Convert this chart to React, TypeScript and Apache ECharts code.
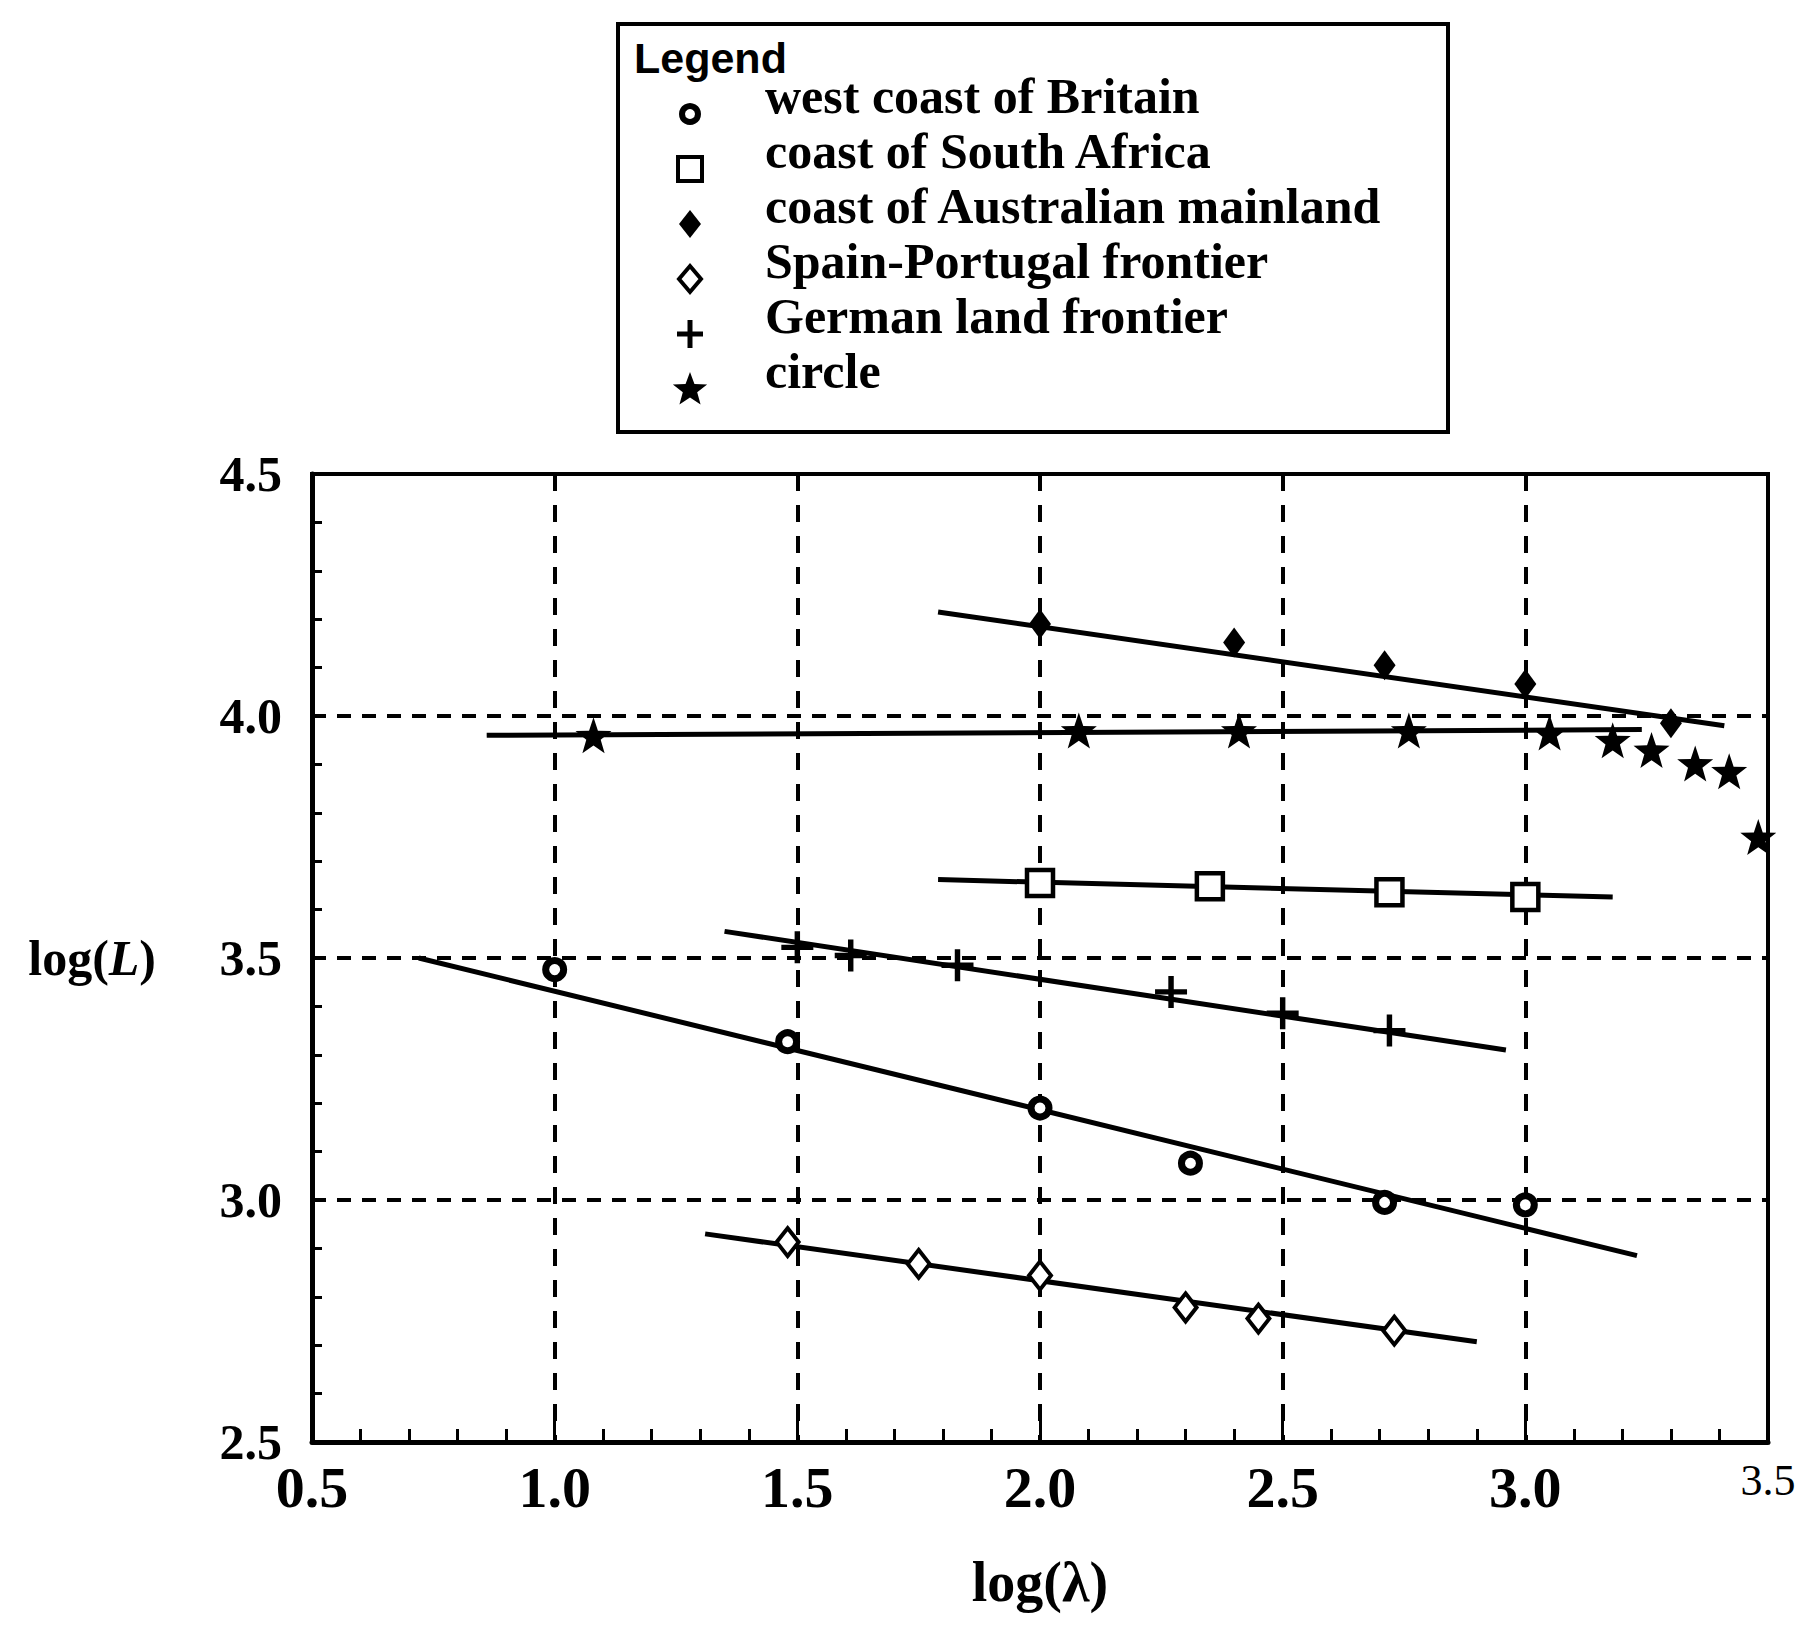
import React, { useEffect, useRef } from 'react';
import * as echarts from 'echarts';

// ---- data ----
const seriesNames = [
  'west coast of Britain',
  'coast of South Africa',
  'coast of Australian mainland',
  'Spain-Portugal frontier',
  'German land frontier',
  'circle',
];

const britainX = [1.0, 1.48, 2.0, 2.31, 2.71, 3.0];
const britainY = [3.476, 3.327, 3.19, 3.076, 2.995, 2.99];
const britainFitX = [0.72, 3.23];
const britainFitY = [3.5, 2.885];

const africaX = [2.0, 2.35, 2.72, 3.0];
const africaY = [3.655, 3.648, 3.636, 3.626];
const africaFitX = [1.79, 3.18];
const africaFitY = [3.662, 3.626];

const australiaX = [2.0, 2.4, 2.71, 3.0, 3.3];
const australiaY = [4.19, 4.152, 4.105, 4.066, 3.985];
const australiaFitX = [1.79, 3.41];
const australiaFitY = [4.215, 3.98];

const spainX = [1.48, 1.75, 2.0, 2.3, 2.45, 2.73];
const spainY = [2.913, 2.868, 2.844, 2.778, 2.755, 2.73];
const spainFitX = [1.31, 2.9];
const spainFitY = [2.93, 2.707];

const germanX = [1.5, 1.61, 1.83, 2.27, 2.5, 2.72];
const germanY = [3.522, 3.505, 3.485, 3.43, 3.386, 3.35];
const germanFitX = [1.35, 2.96];
const germanFitY = [3.555, 3.31];

const circleX = [1.08, 2.08, 2.41, 2.76, 3.05, 3.18, 3.26, 3.35, 3.42, 3.48];
const circleY = [3.96, 3.97, 3.97, 3.97, 3.966, 3.95, 3.93, 3.902, 3.886, 3.75];
const circleFitX = [0.86, 3.24];
const circleFitY = [3.96, 3.972];

const xTickLabels = ['0.5', '1.0', '1.5', '2.0', '2.5', '3.0', '3.5'];
const yTickLabels = ['2.5', '3.0', '3.5', '4.0', '4.5'];

// ---- styling ----
const SERIF = '"Liberation Serif", "DejaVu Serif", serif';
const SANS = '"Liberation Sans", Arial, sans-serif';
const STAR =
  'path://M0,-10 L2.35,-3.24 L9.51,-3.09 L3.8,1.24 L5.88,8.09 L0,4.2 L-5.88,8.09 L-3.8,1.24 L-9.51,-3.09 L-2.35,-3.24 Z';
const PLUS =
  'path://M-1.7,-10 L1.7,-10 L1.7,-1.7 L10,-1.7 L10,1.7 L1.7,1.7 L1.7,10 L-1.7,10 L-1.7,1.7 L-10,1.7 L-10,-1.7 L-1.7,-1.7 Z';

function pairs(xs: number[], ys: number[]) {
  return xs.map((x, i) => [x, ys[i]]);
}

function fitSeries(name: string, xs: number[], ys: number[]) {
  return {
    name,
    type: 'line',
    data: pairs(xs, ys),
    symbol: 'none',
    showSymbol: false,
    silent: true,
    z: 2,
    lineStyle: { color: '#000', width: 5 },
  };
}

function starPoints(cx: number, cy: number, R: number) {
  const pts: number[][] = [];
  const r = R * 0.42;
  for (let i = 0; i < 10; i++) {
    const a = -Math.PI / 2 + (i * Math.PI) / 5;
    const rr = i % 2 === 0 ? R : r;
    pts.push([cx + rr * Math.cos(a), cy + rr * Math.sin(a)]);
  }
  return pts;
}

export default function App() {
  const ref = useRef<HTMLDivElement>(null);

  useEffect(() => {
    document.body.style.margin = '0';
    if (!ref.current) return;
    const chart = echarts.init(ref.current, undefined, { renderer: 'svg' });

    const legX = 690;
    const textX = 765;
    const rowY = [96, 151, 206, 261, 316, 371];
    const off = 18;

    const graphic: any[] = [
      {
        type: 'rect',
        shape: { x: 618, y: 24, width: 830, height: 408 },
        style: { fill: '#fff', stroke: '#000', lineWidth: 4 },
        z: 10,
      },
      {
        type: 'text',
        left: 634,
        top: 36,
        z: 11,
        style: {
          text: 'Legend',
          font: `bold 43px ${SANS}`,
          fill: '#000',
        },
      },
    ];
    seriesNames.forEach((n, i) => {
      graphic.push({
        type: 'text',
        x: textX,
        y: rowY[i],
        z: 11,
        style: {
          text: n,
          font: `bold 50px ${SERIF}`,
          fill: '#000',
          verticalAlign: 'middle',
          align: 'left',
        },
      });
    });
    const iy = rowY.map((y) => y + off);
    graphic.push(
      {
        type: 'circle',
        z: 11,
        shape: { cx: legX, cy: iy[0], r: 8 },
        style: { fill: '#fff', stroke: '#000', lineWidth: 6 },
      },
      {
        type: 'rect',
        z: 11,
        shape: { x: legX - 12, y: iy[1] - 12, width: 24, height: 24 },
        style: { fill: '#fff', stroke: '#000', lineWidth: 4 },
      },
      {
        type: 'polygon',
        z: 11,
        shape: {
          points: [
            [legX, iy[2] - 14],
            [legX + 11, iy[2]],
            [legX, iy[2] + 14],
            [legX - 11, iy[2]],
          ],
        },
        style: { fill: '#000' },
      },
      {
        type: 'polygon',
        z: 11,
        shape: {
          points: [
            [legX, iy[3] - 13],
            [legX + 11, iy[3]],
            [legX, iy[3] + 13],
            [legX - 11, iy[3]],
          ],
        },
        style: { fill: '#fff', stroke: '#000', lineWidth: 4 },
      },
      {
        type: 'rect',
        z: 11,
        shape: { x: legX - 2.5, y: iy[4] - 14, width: 5, height: 28 },
        style: { fill: '#000' },
      },
      {
        type: 'rect',
        z: 11,
        shape: { x: legX - 13, y: iy[4] - 2.5, width: 26, height: 5 },
        style: { fill: '#000' },
      },
      {
        type: 'polygon',
        z: 11,
        shape: { points: starPoints(legX, iy[5] + 1, 18) },
        style: { fill: '#000' },
      }
    );

    const axisLabelX = {
      fontSize: 58,
      fontFamily: SERIF,
      fontWeight: 'bold',
      color: '#000',
      margin: 16,
      formatter: (v: number) => {
        const i = Math.round((v - 0.5) / 0.5);
        const t = xTickLabels[i] ?? '';
        return i === xTickLabels.length - 1 ? `{s|${t}}` : t;
      },
      rich: {
        s: {
          fontSize: 44,
          fontFamily: SERIF,
          fontWeight: 'normal',
          color: '#000',
          padding: [0, 0, 14, 0],
        },
      },
    };

    const option: any = {
      animation: false,
      backgroundColor: '#fff',
      grid: {
        left: 312,
        top: 474,
        right: 44,
        bottom: 189,
        show: true,
        borderColor: '#000',
        borderWidth: 4,
        backgroundColor: 'transparent',
      },
      xAxis: {
        type: 'value',
        min: 0.5,
        max: 3.5,
        interval: 0.5,
        name: 'log(λ)',
        nameLocation: 'middle',
        nameGap: 112,
        nameTextStyle: {
          fontSize: 56,
          fontFamily: SERIF,
          fontWeight: 'bold',
          color: '#000',
        },
        axisLine: { show: true, lineStyle: { color: '#000', width: 5 } },
        axisTick: {
          show: true,
          inside: true,
          length: 30,
          lineStyle: { color: '#000', width: 3 },
        },
        minorTick: {
          show: true,
          splitNumber: 5,
          length: 13,
          lineStyle: { color: '#000', width: 3 },
        },
        splitLine: {
          show: true,
          lineStyle: { color: '#000', width: 4, type: [17, 14] },
        },
        axisLabel: axisLabelX,
      },
      yAxis: {
        type: 'value',
        min: 2.5,
        max: 4.5,
        interval: 0.5,
        name: 'log({i|L})',
        nameLocation: 'middle',
        nameRotate: 0,
        nameGap: 156,
        nameTextStyle: {
          fontSize: 50,
          fontFamily: SERIF,
          fontWeight: 'bold',
          color: '#000',
          rich: {
            i: {
              fontSize: 50,
              fontFamily: SERIF,
              fontWeight: 'bold',
              fontStyle: 'italic',
              color: '#000',
            },
          },
        },
        axisLine: { show: true, lineStyle: { color: '#000', width: 5 } },
        axisTick: {
          show: true,
          inside: true,
          length: 12,
          lineStyle: { color: '#000', width: 3 },
        },
        minorTick: {
          show: true,
          splitNumber: 5,
          length: 10,
          lineStyle: { color: '#000', width: 3 },
        },
        splitLine: {
          show: true,
          lineStyle: { color: '#000', width: 4, type: [14, 11] },
        },
        axisLabel: {
          fontSize: 50,
          fontFamily: SERIF,
          fontWeight: 'bold',
          color: '#000',
          margin: 30,
          formatter: (v: number) => yTickLabels[Math.round((v - 2.5) / 0.5)] ?? '',
        },
      },
      graphic,
      series: [
        fitSeries('fit-britain', britainFitX, britainFitY),
        fitSeries('fit-africa', africaFitX, africaFitY),
        fitSeries('fit-australia', australiaFitX, australiaFitY),
        fitSeries('fit-spain', spainFitX, spainFitY),
        fitSeries('fit-german', germanFitX, germanFitY),
        fitSeries('fit-circle', circleFitX, circleFitY),
        {
          name: seriesNames[0],
          type: 'scatter',
          z: 3,
          data: pairs(britainX, britainY),
          symbol: 'circle',
          symbolSize: 18,
          itemStyle: { opacity: 1, color: '#fff', borderColor: '#000', borderWidth: 7 },
        },
        {
          name: seriesNames[1],
          type: 'scatter',
          z: 3,
          data: pairs(africaX, africaY),
          symbol: 'rect',
          symbolSize: 26,
          itemStyle: { opacity: 1, color: '#fff', borderColor: '#000', borderWidth: 4.5 },
        },
        {
          name: seriesNames[2],
          type: 'scatter',
          z: 3,
          data: pairs(australiaX, australiaY),
          symbol: 'diamond',
          symbolSize: [22, 30],
          itemStyle: { opacity: 1, color: '#000' },
        },
        {
          name: seriesNames[3],
          type: 'scatter',
          z: 3,
          data: pairs(spainX, spainY),
          symbol: 'diamond',
          symbolSize: [22, 28],
          itemStyle: { opacity: 1, color: '#fff', borderColor: '#000', borderWidth: 4 },
        },
        {
          name: seriesNames[4],
          type: 'scatter',
          z: 3,
          data: pairs(germanX, germanY),
          symbol: PLUS,
          symbolSize: 32,
          itemStyle: { opacity: 1, color: '#000' },
        },
        {
          name: seriesNames[5],
          type: 'scatter',
          z: 3,
          data: pairs(circleX, circleY),
          symbol: STAR,
          symbolSize: 36,
          itemStyle: { opacity: 1, color: '#000' },
        },
      ],
    };

    chart.setOption(option);
    return () => chart.dispose();
  }, []);

  return <div ref={ref} style={{ width: 1812, height: 1631, background: '#fff' }} />;
}
